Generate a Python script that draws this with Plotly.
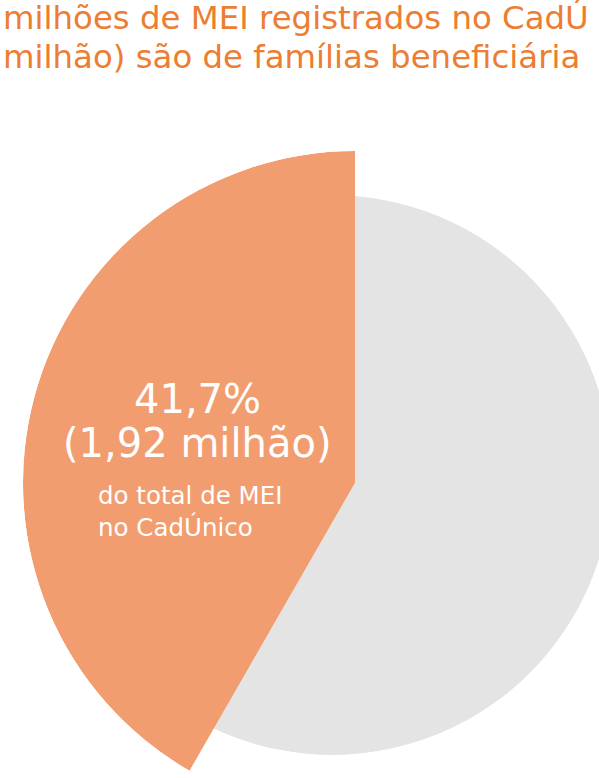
import math
import plotly.graph_objects as go

# ---- data ----
labels = ["Famílias beneficiárias", "Demais MEI no CadÚnico"]
shares = [41.7, 58.3]              # percent of MEI in CadÚnico
slice_colors = ["#F29D6F", "#E4E4E4"]
title_lines = ["milhões de MEI registrados no CadÚ", "milhão) são de famílias beneficiária"]
big_lines = ["41,7%", "(1,92 milhão)"]
small_lines = ["do total de MEI", "no CadÚnico"]

# ---- layout constants (pixels) ----
W, H = 615, 778
START = 90.0                      # slices start at 12 o'clock, counter-clockwise
deg = [s * 3.6 for s in shares]

# highlighted slice (bigger radius), drawn in a sector-shaped polar subplot
O_CX, O_CY, O_R = 355, 483, 332
# remaining slice (smaller radius)
G_CX, G_CY, G_R = 332, 475, 280

def px_x(v):
    return v / W

def px_y(v):
    return 1 - v / H

orange_sector = [START, START + deg[0]]
gray_theta = START + deg[0] + deg[1] / 2
orange_theta = START + deg[0] / 2

fig = go.Figure()
fig.add_trace(go.Barpolar(
    r=[1], theta=[gray_theta], width=[deg[1]], name=labels[1],
    marker=dict(color=slice_colors[1], line=dict(width=0)),
    subplot="polar", hoverinfo="skip", showlegend=False))
fig.add_trace(go.Barpolar(
    r=[1], theta=[orange_theta], width=[deg[0]], name=labels[0],
    marker=dict(color=slice_colors[0], line=dict(width=0)),
    subplot="polar2", hoverinfo="skip", showlegend=False))

hidden_polar = dict(
    bgcolor="rgba(0,0,0,0)",
    radialaxis=dict(visible=False, range=[0, 1]),
    angularaxis=dict(visible=False, direction="counterclockwise", rotation=0),
)
drop = O_R * math.sin(math.radians(orange_sector[1] - 180))
fig.update_layout(
    polar=dict(domain=dict(x=[px_x(G_CX - G_R), px_x(G_CX + G_R)],
                           y=[px_y(G_CY + G_R), px_y(G_CY - G_R)]),
               **hidden_polar),
    polar2=dict(domain=dict(x=[px_x(O_CX - O_R), px_x(O_CX)],
                            y=[px_y(O_CY + drop), px_y(O_CY - O_R)]),
                sector=orange_sector, **hidden_polar),
)

TITLE_COLOR = "#ED7D31"
FONT = "DejaVu Sans"
ann = []
def add_text(text, x, y_mid, size, color, xanchor):
    ann.append(dict(text=text, x=px_x(x), y=px_y(y_mid), xref="paper", yref="paper",
                    xanchor=xanchor, yanchor="middle", showarrow=False,
                    font=dict(family=FONT, size=size, color=color)))

TS = 32.4
add_text(title_lines[0], 1, 28.5 - 0.346 * TS, TS, TITLE_COLOR, "left")
add_text(title_lines[1], 1, 68.5 - 0.346 * TS, TS, TITLE_COLOR, "left")
BS = 40
add_text(big_lines[0], 197, 413 - 0.346 * BS, BS, "white", "center")
add_text(big_lines[1], 197, 457 - 0.346 * BS, BS, "white", "center")
SS = 24.5
add_text(small_lines[0], 96, 504 - 0.346 * SS, SS, "white", "left")
add_text(small_lines[1], 96, 535 - 0.346 * SS, SS, "white", "left")

fig.update_layout(
    width=W, height=H, margin=dict(l=0, r=0, t=0, b=0, pad=0),
    paper_bgcolor="white", plot_bgcolor="white",
    annotations=ann, showlegend=False,
)
fig.write_html(
    "out.html",
    config={"displayModeBar": False},
    post_script="document.body.style.margin='0px';document.body.style.overflow='hidden';",
)
